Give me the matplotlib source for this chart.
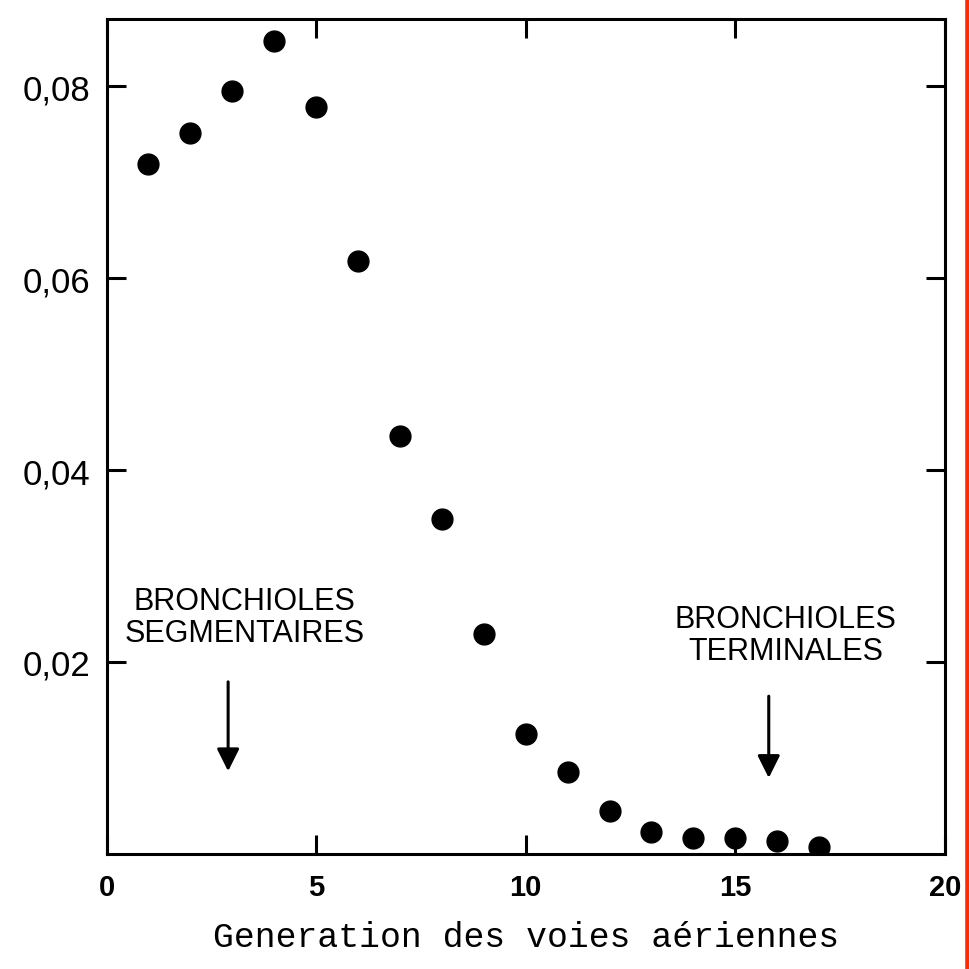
import numpy as np
import matplotlib.pyplot as plt
from matplotlib.lines import Line2D

# generations des voies aeriennes et valeurs
generations = [1, 2, 3, 4, 5, 6, 7, 8, 9, 10, 11, 12, 13, 14, 15, 16, 17]
valeurs = [0.0719, 0.0752, 0.0795, 0.0847, 0.0779, 0.0618, 0.0435, 0.0349,
           0.0229, 0.0125, 0.0085, 0.0044, 0.0023, 0.0016, 0.0016, 0.0013, 0.0007]
xticks = [0, 5, 10, 15, 20]
yticks = [0.02, 0.04, 0.06, 0.08]
ytick_labels = ["0,02", "0,04", "0,06", "0,08"]

fig = plt.figure(figsize=(9.69, 9.70), dpi=100)
ax = fig.add_axes([0.110, 0.119, 0.865, 0.860])

ax.plot(generations, valeurs, 'o', color='black', markersize=15, linestyle='none')

ax.set_xlim(0, 20)
ax.set_ylim(0, 0.087)
ax.set_xticks(xticks)
ax.set_xticklabels([str(t) for t in xticks], fontsize=21, fontweight='bold',
                   family='Liberation Sans')
ax.set_yticks(yticks)
ax.set_yticklabels(ytick_labels, fontsize=25, family='Liberation Sans')
ax.tick_params(direction='in', length=14, width=2.2, top=True, right=True)
ax.tick_params(axis='x', pad=14)
ax.tick_params(axis='y', pad=12)
for s in ax.spines.values():
    s.set_linewidth(2.2)

# annotations
ax.text(3.3, 0.0247, "BRONCHIOLES\nSEGMENTAIRES", ha='center', va='center',
        fontsize=22, family='Liberation Sans', linespacing=1.1)
ax.annotate("", xy=(2.9, 0.0083), xytext=(2.9, 0.0182),
            arrowprops=dict(arrowstyle='-|>', color='black', lw=2.2, mutation_scale=34))
ax.text(16.2, 0.0228, "BRONCHIOLES\nTERMINALES", ha='center', va='center',
        fontsize=22, family='Liberation Sans', linespacing=1.1)
ax.annotate("", xy=(15.8, 0.0076), xytext=(15.8, 0.0167),
            arrowprops=dict(arrowstyle='-|>', color='black', lw=2.2, mutation_scale=34))

ax.set_xlabel("Generation des voies aériennes", fontsize=25, family='Liberation Mono',
              labelpad=14)

# trait rouge au bord droit
fig.add_artist(Line2D([0.9985, 0.9985], [0, 1], color='#ff2a00', lw=4,
                      transform=fig.transFigure))

fig.savefig("out.png", dpi=100)
